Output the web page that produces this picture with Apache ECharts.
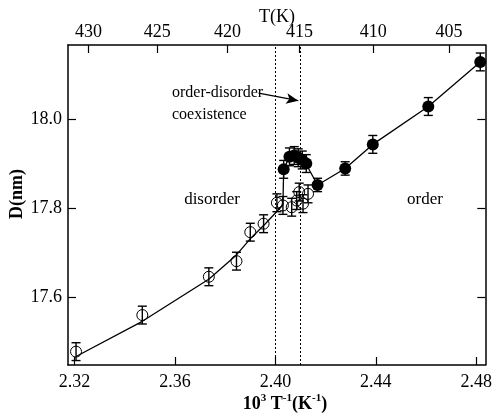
<!DOCTYPE html>
<html>
<head>
<meta charset="utf-8">
<script src="https://cdn.jsdelivr.net/npm/echarts@6/dist/echarts.min.js"></script>
<style>html,body{margin:0;padding:0;background:#fff}#c{width:495px;height:414px}</style>
</head>
<body>
<div id="c"></div>
<script>
// ---- data ----
var xTicks = [2.32, 2.36, 2.40, 2.44, 2.48];
var yTicks = [17.6, 17.8, 18.0];
var tempTicks = [430, 425, 420, 415, 410, 405];

var openX = [2.3206, 2.3470, 2.3735, 2.3845, 2.3900, 2.3953, 2.4006, 2.4030, 2.4065, 2.4085, 2.4095, 2.4110, 2.4130];
var openY = [17.478, 17.560, 17.646, 17.681, 17.746, 17.765, 17.812, 17.806, 17.802, 17.817, 17.836, 17.810, 17.832];
var openErr = [0.02, 0.02, 0.02, 0.02, 0.02, 0.02, 0.02, 0.02, 0.02, 0.02, 0.02, 0.02, 0.02];

var filledX = [2.4033, 2.4056, 2.4075, 2.4091, 2.4107, 2.4123, 2.4168, 2.4278, 2.4388, 2.4609, 2.4816];
var filledY = [17.887, 17.915, 17.918, 17.913, 17.908, 17.900, 17.852, 17.889, 17.943, 18.028, 18.128];
var filledErr = [0.02, 0.02, 0.02, 0.02, 0.02, 0.02, 0.015, 0.015, 0.02, 0.02, 0.02];

var curveX = [2.3206, 2.3470, 2.3736, 2.3845, 2.3898, 2.3960, 2.4030, 2.4033, 2.4056, 2.4075, 2.4091, 2.4107, 2.4123, 2.4168, 2.4278, 2.4388, 2.4609, 2.4816];
var curveY = [17.467, 17.546, 17.641, 17.695, 17.730, 17.765, 17.807, 17.887, 17.915, 17.918, 17.913, 17.908, 17.898, 17.852, 17.889, 17.943, 18.028, 18.128];

var coexistBounds = [2.4032, 2.4128];

// ---- chart ----
var FONT = 'Liberation Serif';
function zip(a, b, c) { return a.map(function (v, i) { return c ? [v, b[i], c[i]] : [v, b[i]]; }); }

var chart = echarts.init(document.getElementById('c'), null, { renderer: 'canvas' });

function errRender(params, api) {
  var x = api.value(0), y = api.value(1), e = api.value(2);
  var top = api.coord([x, y + e]);
  var bot = api.coord([x, y - e]);
  var h = 4.5;
  var st = { stroke: '#000', lineWidth: 1.4 };
  return {
    type: 'group',
    children: [
      { type: 'line', shape: { x1: top[0], y1: top[1], x2: bot[0], y2: bot[1] }, style: st },
      { type: 'line', shape: { x1: top[0] - h, y1: top[1], x2: top[0] + h, y2: top[1] }, style: st },
      { type: 'line', shape: { x1: bot[0] - h, y1: bot[1], x2: bot[0] + h, y2: bot[1] }, style: st }
    ]
  };
}

var axisLineStyle = { color: '#000', width: 1.5 };
var labelStyle = { color: '#000', fontFamily: FONT, fontSize: 18 };

var option = {
  backgroundColor: '#fff',
  animation: false,
  grid: { left: 68, right: 7, top: 45, bottom: 49 },
  xAxis: [
    {
      type: 'value', position: 'bottom', min: 2.3174, max: 2.4836,
      axisLine: { show: true, lineStyle: axisLineStyle, onZero: false },
      axisTick: { show: true, inside: true, length: 8, customValues: xTicks, lineStyle: { color: '#000', width: 1.2 } },
      axisLabel: Object.assign({ customValues: xTicks, margin: 8, formatter: function (v) { return v.toFixed(2); } }, labelStyle),
      splitLine: { show: false }
    },
    {
      type: 'value', position: 'top', min: 2.3174, max: 2.4836,
      axisLine: { show: true, lineStyle: axisLineStyle, onZero: false },
      axisTick: { show: true, inside: true, length: 8, customValues: tempTicks.map(function (t) { return 1000 / t; }), lineStyle: { color: '#000', width: 1.2 } },
      axisLabel: Object.assign({ customValues: tempTicks.map(function (t) { return 1000 / t; }), margin: 4, formatter: function (v) { return String(Math.round(1000 / v)); } }, labelStyle),
      splitLine: { show: false }
    }
  ],
  yAxis: [
    {
      type: 'value', position: 'left', min: 17.448, max: 18.166,
      axisLine: { show: true, lineStyle: axisLineStyle, onZero: false },
      axisTick: { show: true, inside: true, length: 8, customValues: yTicks, lineStyle: { color: '#000', width: 1.2 } },
      axisLabel: Object.assign({ customValues: yTicks, margin: 6, formatter: function (v) { return v.toFixed(1); } }, labelStyle),
      splitLine: { show: false }
    },
    {
      type: 'value', position: 'right', min: 17.448, max: 18.166,
      axisLine: { show: true, lineStyle: axisLineStyle, onZero: false },
      axisTick: { show: true, inside: true, length: 8, customValues: yTicks, lineStyle: { color: '#000', width: 1.2 } },
      axisLabel: { show: false },
      splitLine: { show: false }
    }
  ],
  series: [
    {
      type: 'line', name: 'curve', data: zip(curveX, curveY), showSymbol: false, symbol: 'none',
      lineStyle: { color: '#000', width: 1.3 }, z: 2,
      markLine: {
        silent: true, animation: false,
        symbol: ['none', 'none'],
        label: { show: false },
        data: [
          { xAxis: coexistBounds[0], lineStyle: { type: [2, 2], color: '#000', width: 1 } },
          { xAxis: coexistBounds[1], lineStyle: { type: [2, 2], color: '#000', width: 1 } },
          [
            { coord: [2.3933, 18.058], symbol: 'none', lineStyle: { type: 'solid', color: '#000', width: 1.3 } },
            { coord: [2.4091, 18.041], symbol: 'arrow', symbolSize: [8, 12] }
          ]
        ]
      }
    },
    {
      type: 'custom', name: 'openErr', renderItem: errRender, data: zip(openX, openY, openErr), z: 3,
      encode: { x: 0, y: 1 }
    },
    {
      type: 'custom', name: 'filledErr', renderItem: errRender, data: zip(filledX, filledY, filledErr), z: 3,
      encode: { x: 0, y: 1 }
    },
    {
      type: 'scatter', name: 'disorder', data: zip(openX, openY), symbol: 'circle', symbolSize: 11,
      itemStyle: { color: 'rgba(0,0,0,0)', borderColor: '#000', borderWidth: 1, opacity: 1 }, z: 4
    },
    {
      type: 'scatter', name: 'order', data: zip(filledX, filledY), symbol: 'circle', symbolSize: 12,
      itemStyle: { color: '#000', opacity: 1 }, z: 5
    }
  ],
  graphic: [
    { type: 'text', x: 277, y: 17, style: { text: 'T(K)', fontFamily: FONT, fontSize: 18, fill: '#000', align: 'center', verticalAlign: 'middle' } },
    { type: 'text', x: 17, y: 194, rotation: Math.PI / 2, style: { text: 'D(nm)', fontFamily: FONT, fontSize: 18, fontWeight: 'bold', fill: '#000', align: 'center', verticalAlign: 'middle' } },
    { type: 'text', x: 285, y: 403, style: {
        text: '{b|10}{s|3}{b| T}{s|-1}{b|(K}{s|-1}{b|)}',
        align: 'center', verticalAlign: 'middle',
        rich: {
          b: { fontFamily: FONT, fontSize: 18, fontWeight: 'bold', fill: '#000', verticalAlign: 'bottom', lineHeight: 20 },
          s: { fontFamily: FONT, fontSize: 11, fontWeight: 'bold', fill: '#000', verticalAlign: 'top', lineHeight: 20 }
        }
      } },
    { type: 'text', x: 212, y: 200, style: { text: 'disorder', fontFamily: FONT, fontSize: 17, fill: '#000', align: 'center', verticalAlign: 'middle' } },
    { type: 'text', x: 425, y: 200, style: { text: 'order', fontFamily: FONT, fontSize: 17, fill: '#000', align: 'center', verticalAlign: 'middle' } },
    { type: 'text', x: 172, y: 93, style: { text: 'order-disorder', fontFamily: FONT, fontSize: 16, fill: '#000', align: 'left', verticalAlign: 'middle' } },
    { type: 'text', x: 172, y: 115, style: { text: 'coexistence', fontFamily: FONT, fontSize: 16, fill: '#000', align: 'left', verticalAlign: 'middle' } }
  ]
};
chart.setOption(option);
</script>
</body>
</html>
